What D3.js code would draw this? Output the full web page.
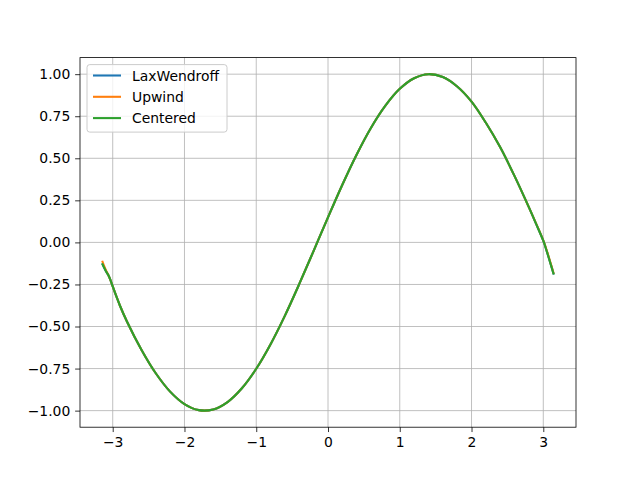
<!DOCTYPE html>
<html><head><meta charset="utf-8">
<script src="https://cdn.jsdelivr.net/npm/d3@7"></script>
<style>body{margin:0;background:#fff}svg{display:block}text{font-family:"DejaVu Sans",sans-serif}</style>
</head><body>
<svg id="c" width="640" height="480"></svg>
<script>
const xs = [-3.1416,-3.12,-3.09,-3.06,-3.03,-3.0,-2.9,-2.8,-2.6,-2.4,-2.2,-2.0,-1.8,-1.6,-1.4,-1.2,-1.0,-0.8,-0.6,-0.4,-0.2,0,0.2,0.4,0.6,0.8,1.0,1.2,1.4,1.6,1.8,2.0,2.2,2.4,2.6,2.8,2.9,3.0,3.05,3.1,3.1416];
const laxWendroff = [-0.13,-0.15,-0.175,-0.195,-0.225,-0.262,-0.375,-0.472,-0.638,-0.778,-0.887,-0.961,-0.997,-0.993,-0.949,-0.867,-0.751,-0.605,-0.435,-0.247,-0.050,0.149,0.343,0.523,0.682,0.813,0.913,0.976,1.000,0.983,0.927,0.837,0.711,0.565,0.394,0.208,0.110,0.010,-0.055,-0.125,-0.185];
const upwind = [-0.115,-0.14,-0.17,-0.195,-0.225,-0.262,-0.375,-0.472,-0.638,-0.778,-0.887,-0.961,-0.997,-0.993,-0.949,-0.867,-0.751,-0.605,-0.435,-0.247,-0.050,0.149,0.343,0.523,0.682,0.813,0.913,0.976,1.000,0.983,0.927,0.837,0.711,0.565,0.394,0.208,0.112,0.012,-0.050,-0.120,-0.180];
const centered = [-0.13,-0.15,-0.175,-0.195,-0.225,-0.262,-0.375,-0.472,-0.638,-0.778,-0.887,-0.961,-0.997,-0.993,-0.949,-0.867,-0.751,-0.605,-0.435,-0.247,-0.050,0.149,0.343,0.523,0.682,0.813,0.913,0.976,1.000,0.983,0.927,0.837,0.711,0.565,0.394,0.208,0.110,0.010,-0.055,-0.125,-0.185];
const seriesNames = ["LaxWendroff","Upwind","Centered"];
const colors = ["#1f77b4","#ff7f0e","#2ca02c"];
const xTicks = [-3,-2,-1,0,1,2,3];
const yTicks = [-1,-0.75,-0.5,-0.25,0,0.25,0.5,0.75,1];

const svg = d3.select("#c");
const L=80,R=576,T=57.6,B=427.2;
const x = d3.scaleLinear().domain([-3.4558,3.4558]).range([L,R]);
const y = d3.scaleLinear().domain([-1.0985,1.0985]).range([B,T]);

// grid
const g = svg.append("g");
g.selectAll(".gx").data(xTicks).enter().append("line")
 .attr("x1",d=>x(d)).attr("x2",d=>x(d)).attr("y1",T).attr("y2",B)
 .attr("stroke","#b0b0b0").attr("stroke-width",0.8);
g.selectAll(".gy").data(yTicks).enter().append("line")
 .attr("y1",d=>y(d)).attr("y2",d=>y(d)).attr("x1",L).attr("x2",R)
 .attr("stroke","#b0b0b0").attr("stroke-width",0.8);

// lines
const data = [laxWendroff,upwind,centered];
const line = d3.line().x((d,i)=>x(xs[i])).y(d=>y(d)).curve(d3.curveCatmullRom.alpha(0.5));
data.forEach((s,k)=>{
  svg.append("path").datum(s).attr("d",line).attr("fill","none")
   .attr("stroke",colors[k]).attr("stroke-width",2.08).attr("stroke-linecap","square").attr("stroke-linejoin","round");
});

// axes
const ax = svg.append("g").attr("transform",`translate(0,${B})`)
 .call(d3.axisBottom(x).tickValues(xTicks).tickSize(4.86).tickPadding(4.9).tickFormat(d=>d<0?"\u2212"+Math.abs(d):d));
const ay = svg.append("g").attr("transform",`translate(${L},0)`)
 .call(d3.axisLeft(y).tickValues(yTicks).tickSize(4.86).tickPadding(4.9).tickFormat(d=>{const s=Math.abs(d).toFixed(2);return d<0?"\u2212"+s:s;}));
[ax,ay].forEach(a=>{
  a.select(".domain").remove();
  a.selectAll("line").attr("stroke","#000").attr("stroke-width",0.8);
  a.selectAll("text").attr("fill","#000").style("font-size","13.9px").style("font-family","DejaVu Sans");
});
svg.append("rect").attr("x",L).attr("y",T).attr("width",R-L).attr("height",B-T)
 .attr("fill","none").attr("stroke","#000").attr("stroke-width",0.8);

// legend
const lg = svg.append("g");
lg.append("rect").attr("x",87).attr("y",64.6).attr("width",140).attr("height",67.5).attr("rx",2.8)
 .attr("fill","#fff").attr("fill-opacity",0.8).attr("stroke","#cccccc").attr("stroke-width",1);
seriesNames.forEach((n,i)=>{
  const cy = 75.5 + i*21.3;
  lg.append("line").attr("x1",93).attr("x2",121).attr("y1",cy).attr("y2",cy)
   .attr("stroke",colors[i]).attr("stroke-width",2.08);
  lg.append("text").attr("x",132).attr("y",cy).attr("dy","0.36em")
   .style("font-size","13.9px").attr("fill","#000").text(n);
});
</script>
</body></html>
